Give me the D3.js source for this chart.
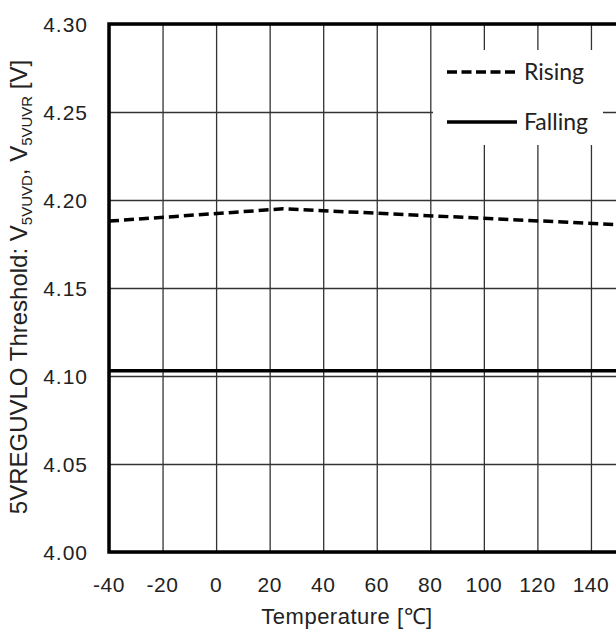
<!DOCTYPE html>
<html>
<head>
<meta charset="utf-8">
<script src="https://cdn.jsdelivr.net/npm/d3@7"></script>
<style>
body { margin: 0; background: #fff; }
text { font-family: "Liberation Sans", Arial, sans-serif; fill: #222; }
</style>
</head>
<body>
<svg id="chart" width="616" height="632"></svg>
<script>
// data
var risingTemp = [-40, 25, 150]
var risingV = [4.188, 4.195, 4.186]
var fallingTemp = [-40, 25, 150]
var fallingV = [4.103, 4.103, 4.103]
var xTicks = [-40, -20, 0, 20, 40, 60, 80, 100, 120, 140, 160]
var xLabels = [-40, -20, 0, 20, 40, 60, 80, 100, 120, 140]
var yTicks = [4.00, 4.05, 4.10, 4.15, 4.20, 4.25, 4.30]
var seriesNames = ["Rising", "Falling"]

var svg = d3.select("#chart")

var x = d3.scaleLinear().domain([-40, 160]).range([109, 644.5])
var y = d3.scaleLinear().domain([4.00, 4.30]).range([552, 24])

// grid
svg.append("g")
  .attr("transform", "translate(0,552)")
  .call(d3.axisBottom(x).tickValues(xTicks).tickSize(-528).tickFormat(""))
  .call(function (g) { g.select(".domain").remove() })
  .selectAll("line").attr("stroke", "#333").attr("stroke-width", 1.3)

svg.append("g")
  .attr("transform", "translate(109,0)")
  .call(d3.axisLeft(y).tickValues(yTicks).tickSize(-540).tickFormat(""))
  .call(function (g) { g.select(".domain").remove() })
  .selectAll("line").attr("stroke", "#333").attr("stroke-width", 1.3)

// tick labels
svg.append("g").selectAll("text")
  .data(xLabels)
  .enter().append("text")
  .attr("x", function (d) { return x(d) })
  .attr("y", 592)
  .attr("text-anchor", "middle")
  .style("font-size", "21px")
  .style("letter-spacing", "0.5px")
  .text(function (d) { return d })

svg.append("g").selectAll("text")
  .data(yTicks)
  .enter().append("text")
  .attr("x", 88)
  .attr("y", function (d) { return y(d) + 7.5 })
  .attr("text-anchor", "end")
  .style("font-size", "21px")
  .style("letter-spacing", "1px")
  .text(function (d) { return d3.format(".2f")(d) })

// series
var line = d3.line()
  .x(function (d) { return x(d[0]) })
  .y(function (d) { return y(d[1]) })

svg.append("path")
  .datum(d3.zip(risingTemp, risingV))
  .attr("d", line)
  .attr("fill", "none")
  .attr("stroke", "#000")
  .attr("stroke-width", 3.5)
  .attr("stroke-dasharray", "10,5")

svg.append("path")
  .datum(d3.zip(fallingTemp, fallingV))
  .attr("d", line)
  .attr("fill", "none")
  .attr("stroke", "#000")
  .attr("stroke-width", 3.5)

// legend
svg.append("rect")
  .attr("x", 433).attr("y", 50)
  .attr("width", 170).attr("height", 95)
  .attr("fill", "#fff")

seriesNames.forEach(function (name, i) {
  var ly = 72 + i * 50
  svg.append("line")
    .attr("x1", 447).attr("x2", 517)
    .attr("y1", ly).attr("y2", ly)
    .attr("stroke", "#000")
    .attr("stroke-width", 3.5)
    .attr("stroke-dasharray", i == 0 ? "10,4.5" : null)
  svg.append("text")
    .attr("x", 524)
    .attr("y", ly + 8)
    .style("font-family", "Lato, 'Open Sans', sans-serif")
    .style("font-size", "23px")
    .text(name)
})

// frame
svg.append("path")
  .attr("d", "M109,24V552H644.5V24Z")
  .attr("fill", "none")
  .attr("stroke", "#000")
  .attr("stroke-width", 3.5)

// axis titles
svg.append("text")
  .attr("x", 347)
  .attr("y", 624)
  .attr("text-anchor", "middle")
  .style("font-size", "22px")
  .style("letter-spacing", "0.5px")
  .text("Temperature [℃]")

var yt = svg.append("text")
  .attr("transform", "translate(27,287) rotate(-90)")
  .attr("text-anchor", "middle")
  .style("font-size", "24px")
yt.append("tspan").text("5VREGUVLO Threshold: V")
yt.append("tspan").attr("dy", 5).style("font-size", "15px").text("5VUVD")
yt.append("tspan").attr("dy", -5).text(", V")
yt.append("tspan").attr("dy", 5).style("font-size", "15px").text("5VUVR")
yt.append("tspan").attr("dy", -5).text(" [V]")
</script>
</body>
</html>
